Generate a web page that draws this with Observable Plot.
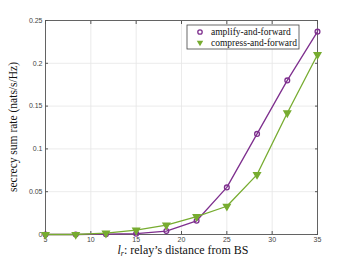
<!DOCTYPE html>
<html>
<head>
<meta charset="utf-8">
<script src="https://cdn.jsdelivr.net/npm/d3@7"></script>
<script src="https://cdn.jsdelivr.net/npm/@observablehq/plot@0.6"></script>
<style>
html,body{margin:0;padding:0;background:#fff;}
</style>
</head>
<body>
<div id="chart"></div>
<script>
const distance = [5, 8.333, 11.667, 15, 18.333, 21.667, 25, 28.333, 31.667, 35];
const amplifyForward = [0, 0, 0.0004, 0.001, 0.004, 0.016, 0.055, 0.1175, 0.18, 0.237];
const compressForward = [0, 0, 0.0015, 0.005, 0.011, 0.021, 0.033, 0.07, 0.142, 0.21];
const seriesNames = ["amplify-and-forward", "compress-and-forward"];
const xTicks = [5, 10, 15, 20, 25, 30, 35];
const yTicks = [0, 0.05, 0.1, 0.15, 0.2, 0.25];
const colors = ["#7E2F8E", "#77AC30"];

const af = distance.map((d, i) => ({x: d, y: amplifyForward[i]}));
const cf = distance.map((d, i) => ({x: d, y: compressForward[i]}));

const tickFont = "Liberation Sans, Arial, sans-serif";
const serif = "'Liberation Serif', 'DejaVu Serif', serif";
const svg = Plot.plot({
  width: 350,
  height: 263,
  marginLeft: 45,
  marginRight: 33,
  marginTop: 20,
  marginBottom: 29,
  style: {fontFamily: tickFont, fontSize: "7px", color: "#555", background: "#fff"},
  x: {domain: [5, 35], ticks: xTicks, label: null},
  y: {domain: [0, 0.25], ticks: yTicks, label: null, tickFormat: d => String(+d.toFixed(2))},
  marks: [
    Plot.ruleX(xTicks, {stroke: "#e6e6e6", strokeWidth: 0.8}),
    Plot.ruleY(yTicks, {stroke: "#e6e6e6", strokeWidth: 0.8}),
    Plot.axisX({ticks: xTicks, tickSize: -3, tickPadding: 6, stroke: "#555", fill: "#444", label: null}),
    Plot.axisX({ticks: xTicks, anchor: "top", tickSize: -3, tickFormat: () => "", stroke: "#555", label: null}),
    Plot.axisY({ticks: yTicks, tickSize: -3, tickPadding: 6, stroke: "#555", fill: "#444", label: null, tickFormat: d => String(+d.toFixed(2))}),
    Plot.axisY({ticks: yTicks, anchor: "right", tickSize: -3, tickFormat: () => "", stroke: "#555", label: null}),
    Plot.frame({stroke: "#555", strokeWidth: 0.9}),
    Plot.line(af, {x: "x", y: "y", stroke: colors[0], strokeWidth: 1.3}),
    Plot.line(cf, {x: "x", y: "y", stroke: colors[1], strokeWidth: 1.3}),
    Plot.dot(af, {x: "x", y: "y", stroke: colors[0], r: 2.4, strokeWidth: 1.3, fill: "none"}),
    Plot.dot(cf, {x: "x", y: "y", symbol: "triangle", rotate: 180, fill: colors[1], stroke: colors[1], r: 2.4})
  ]
});

const s = d3.select(svg);
// legend
const lg = s.append("g").style("text-anchor", "start");
lg.append("rect").attr("x", 187).attr("y", 25).attr("width", 112).attr("height", 24)
  .attr("fill", "#fff").attr("stroke", "#444").attr("stroke-width", 0.8);
lg.append("circle").attr("cx", 200).attr("cy", 32).attr("r", 2.2)
  .attr("fill", "none").attr("stroke", colors[0]).attr("stroke-width", 1.3);
lg.append("path").attr("d", d3.symbol(d3.symbolTriangle, 18)()).attr("transform", "translate(200,42.5) rotate(180)")
  .attr("fill", colors[1]);
seriesNames.forEach((n, i) => {
  lg.append("text").attr("x", 211).attr("y", 35 + i * 10.5).text(n)
    .style("text-anchor", "start")
    .style("font-family", serif).style("font-size", "9.5px").style("fill", "#111");
});
// axis labels
s.append("text").attr("transform", "translate(17,127) rotate(-90)").style("text-anchor", "middle")
  .style("font-family", serif).style("font-size", "11.5px").style("fill", "#111")
  .text("secrecy sum rate (nats/s/Hz)");
const xl = s.append("text").attr("x", 183).attr("y", 254).style("text-anchor", "middle")
  .style("font-family", serif).style("font-size", "12px").style("fill", "#111");
xl.append("tspan").style("font-style", "italic").text("l");
xl.append("tspan").style("font-style", "italic").style("font-size", "8px").attr("dy", 2).text("r");
xl.append("tspan").attr("dy", -2).text(": relay\u2019s distance from BS");

document.getElementById("chart").appendChild(svg);
</script>
</body>
</html>
